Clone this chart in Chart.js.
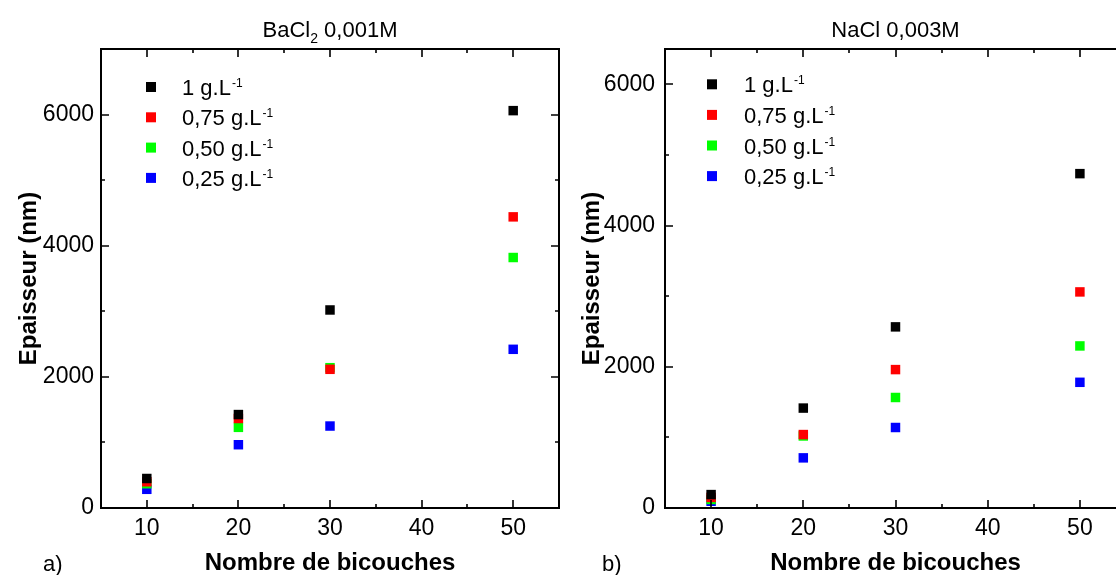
<!DOCTYPE html>
<html>
<head>
<meta charset="utf-8">
<script src="https://cdn.jsdelivr.net/npm/chart.js@4.4.0/dist/chart.umd.min.js"></script>
<style>
  html, body { margin: 0; padding: 0; background: #fff; overflow: hidden; width: 1116px; height: 575px; }
  .bloc { position: absolute; top: 0; height: 575px; }
  #blocA { left: 0; width: 566px; }
  #blocB { left: 560px; width: 573px; }
</style>
</head>
<body>
<div class="bloc" id="blocA"><canvas id="grapheA"></canvas></div>
<div class="bloc" id="blocB"><canvas id="grapheB"></canvas></div>
<script>
// nombre de bicouches (axe X commun aux deux graphes)
const bicouches = [10, 20, 30, 50]

// concentrations (légende, en g.L-1) et couleurs Origin
const concentrations = ['1', '0,75', '0,50', '0,25']
const couleurs = ['#000000', '#ff0000', '#00ff00', '#0000ff']

// graduations (les étiquettes ne sont écrites que sur les grandes)
const xGraduations = [5, 10, 15, 20, 25, 30, 35, 40, 45, 50, 55]
const yGraduations = [0, 1000, 2000, 3000, 4000, 5000, 6000, 7000]

// a) BaCl2 0,001M - épaisseur en nm
const bacl2_1 = [450, 1425, 3020, 6060]
const bacl2_075 = [400, 1365, 2115, 4440]
const bacl2_050 = [370, 1230, 2140, 3820]
const bacl2_025 = [285, 965, 1250, 2420]

// b) NaCl 0,003M - épaisseur en nm
const nacl_1 = [190, 1415, 2565, 4735]
const nacl_075 = [150, 1040, 1960, 3060]
const nacl_050 = [120, 1020, 1565, 2295]
const nacl_025 = [95, 710, 1140, 1780]

const police = "'Liberation Sans', Arial, sans-serif"

// plugin maison : cadre + graduations vers l'intérieur, légende, titre, lettre a)/b)
const cadreOrigin = {
  id: 'cadreOrigin',
  afterDraw(chart, args, opts) {
    const ctx = chart.ctx
    const {left, right, top, bottom} = chart.chartArea
    const sx = chart.scales.x
    const sy = chart.scales.y
    ctx.save()
    ctx.strokeStyle = '#000'
    ctx.lineWidth = 2
    ctx.strokeRect(left, top, right - left, bottom - top)

    ctx.lineWidth = 1.6
    ctx.beginPath()
    sx.ticks.forEach(t => {
      if (t.value <= sx.min || t.value >= sx.max) return
      let px = Math.round(sx.getPixelForValue(t.value))
      let lg = t.value % 10 === 0 ? 8 : 4
      ctx.moveTo(px, bottom); ctx.lineTo(px, bottom - lg)
      ctx.moveTo(px, top); ctx.lineTo(px, top + lg)
    })
    sy.ticks.forEach(t => {
      if (t.value <= sy.min || t.value >= sy.max) return
      let py = Math.round(sy.getPixelForValue(t.value))
      let lg = t.value % 2000 === 0 ? 8 : 4
      ctx.moveTo(left, py); ctx.lineTo(left + lg, py)
      ctx.moveTo(right, py); ctx.lineTo(right - lg, py)
    })
    ctx.stroke()

    // légende
    concentrations.forEach((c, i) => {
      let my = top + opts.legY + i * opts.legPas
      let mx = left + opts.legX
      ctx.fillStyle = couleurs[i]
      ctx.fillRect(mx - 5, my - 5, 10, 10)
      ctx.fillStyle = '#000'
      ctx.font = '22px ' + police
      ctx.textAlign = 'left'
      ctx.textBaseline = 'alphabetic'
      let txt = c + ' g.L'
      ctx.fillText(txt, mx + opts.legTexte, my + 8)
      let w = ctx.measureText(txt).width
      ctx.font = '12px ' + police
      ctx.fillText('-1', mx + opts.legTexte + w + 1, my)
    })

    // titre avec indice éventuel
    ctx.font = '22px ' + police
    let w1 = ctx.measureText(opts.titre[0]).width
    let w3 = ctx.measureText(opts.titre[2]).width
    ctx.font = '14px ' + police
    let w2 = ctx.measureText(opts.titre[1]).width
    let x0 = (left + right) / 2 - (w1 + w2 + w3) / 2
    ctx.font = '22px ' + police
    ctx.fillText(opts.titre[0], x0, 37)
    ctx.font = '14px ' + police
    ctx.fillText(opts.titre[1], x0 + w1, 43)
    ctx.font = '22px ' + police
    ctx.fillText(opts.titre[2], x0 + w1 + w2, 37)

    // lettre du panneau
    ctx.fillText(opts.lettre, opts.lettreX, 571)
    ctx.restore()
  }
}

function creerGraphe(id, series, reglages) {
  const datasets = series.map((s, i) => ({
    label: concentrations[i] + ' g.L-1',
    data: bicouches.map((b, k) => ({x: b, y: s[k]})),
    backgroundColor: couleurs[i],
    borderColor: couleurs[i],
    borderWidth: 0,
    pointStyle: 'rect',
    pointRadius: 6.7,
    pointHoverRadius: 6.7,
    showLine: false
  }))

  return new Chart(id, {
    type: 'scatter',
    data: { datasets: datasets },
    options: {
      animation: false,
      responsive: true,
      maintainAspectRatio: false,
      layout: { padding: { top: 49, left: 0, right: 0, bottom: 0 } },
      plugins: {
        legend: { display: false },
        tooltip: { enabled: false },
        cadreOrigin: reglages
      },
      scales: {
        x: {
          type: 'linear',
          min: 5, max: 55,
          afterFit: s => { s.height = 67 },
          afterBuildTicks: s => { s.ticks = xGraduations.map(v => ({value: v})) },
          grid: { display: false, drawTicks: false },
          border: { display: false },
          ticks: {
            autoSkip: false, maxRotation: 0, padding: 7,
            color: '#000', font: { size: 23, family: police },
            callback: v => (v % 10 === 0 && v > 5 && v < 55) ? String(v) : ''
          },
          title: {
            display: true, text: 'Nombre de bicouches', color: '#000',
            font: { size: 24, weight: 'bold', family: police, lineHeight: 1 },
            padding: { top: 0, bottom: 0 }
          }
        },
        y: {
          type: 'linear',
          min: 0, max: reglages.yMax,
          afterFit: s => { s.width = reglages.largeurY },
          afterBuildTicks: s => { s.ticks = yGraduations.filter(v => v <= reglages.yMax).map(v => ({value: v})) },
          grid: { display: false, drawTicks: false },
          border: { display: false },
          ticks: {
            autoSkip: false, padding: reglages.padY,
            color: '#000', font: { size: 23, family: police },
            callback: v => (v % 2000 === 0) ? String(v) : ''
          },
          title: {
            display: true, text: 'Epaisseur (nm)', color: '#000',
            font: { size: 24, weight: 'bold', family: police, lineHeight: 1 },
            padding: { top: reglages.padTitreY, bottom: 0 }
          }
        }
      }
    },
    plugins: [cadreOrigin]
  })
}

creerGraphe('grapheA', [bacl2_1, bacl2_075, bacl2_050, bacl2_025], {
  yMax: 7000, largeurY: 101, padY: 7, padTitreY: 17,
  legX: 50, legY: 38, legPas: 30.3, legTexte: 31,
  titre: ['BaCl', '2', ' 0,001M'], lettre: 'a)', lettreX: 43
})

creerGraphe('grapheB', [nacl_1, nacl_075, nacl_050, nacl_025], {
  yMax: 6500, largeurY: 105, padY: 10, padTitreY: 20,
  legX: 47, legY: 35.3, legPas: 30.6, legTexte: 32,
  titre: ['NaCl 0,003M', '', ''], lettre: 'b)', lettreX: 42
})
</script>
</body>
</html>
